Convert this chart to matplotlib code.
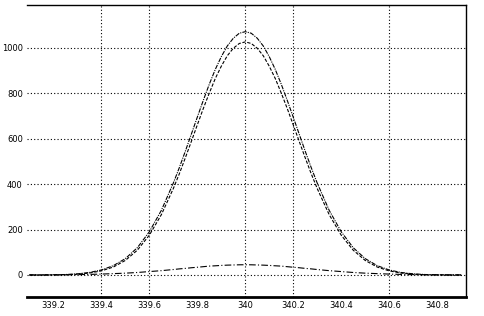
import matplotlib
matplotlib.use("Agg")
import matplotlib.pyplot as plt

# sample positions (field) and curves
x = [339.10, 339.15, 339.20, 339.25, 339.30, 339.35, 339.40, 339.45, 339.50, 339.55,
     339.60, 339.65,
     339.700, 339.725, 339.750, 339.775, 339.800, 339.825, 339.850, 339.875, 339.900,
     339.925, 339.950, 339.975, 340.000, 340.025, 340.050, 340.075, 340.100, 340.125,
     340.150, 340.175, 340.200, 340.225, 340.250, 340.275, 340.300,
     340.35, 340.40, 340.45, 340.50, 340.55, 340.60, 340.65, 340.70, 340.75, 340.80,
     340.85, 340.90]

total = [0, 0, 1, 2, 5, 11, 22, 41, 72, 120, 190, 284,
         404, 472, 544, 619, 694, 768, 839, 904, 960, 1007, 1041, 1063, 1070,
         1063, 1041, 1007, 960, 904, 839, 768, 694, 619, 544, 472, 404,
         284, 190, 120, 72, 41, 22, 11, 5, 2, 1, 0, 0]
main = [0, 0, 0.4, 1, 3.4, 8.5, 18, 35, 64, 109, 175, 265,
        380, 445, 515, 587, 660, 732, 800, 864, 918, 964, 997, 1018, 1025,
        1018, 997, 964, 918, 864, 800, 732, 660, 587, 515, 445, 380,
        265, 175, 109, 64, 35, 18, 8.5, 3.4, 1, 0.4, 0, 0]
small = [0.2, 0.3, 0.6, 1, 1.6, 2.5, 4, 6, 8, 11, 15, 19,
         24, 26.8, 29, 31.8, 34, 36.5, 39, 40.4, 42, 43.3, 44, 44.8, 45,
         44.8, 44, 43.3, 42, 40.4, 39, 36.5, 34, 31.8, 29, 26.8, 24,
         19, 15, 11, 8, 6, 4, 2.5, 1.6, 1, 0.6, 0.3, 0.2]

xticks = [339.2, 339.4, 339.6, 339.8, 340.0, 340.2, 340.4, 340.6, 340.8]
xlabels = ["339.2", "339.4", "339.6", "339.8", "340", "340.2", "340.4", "340.6", "340.8"]
yticks = [0, 200, 400, 600, 800, 1000]
vgrid = [339.4, 339.6, 340.0, 340.2, 340.6]

fig = plt.figure(figsize=(4.85, 3.16), dpi=100)
ax = fig.add_axes([0.0557, 0.060, 0.905, 0.924])

dots = (0, (1, 2))
for v in vgrid:
    ax.axvline(v, color="black", lw=0.8, ls=dots, zorder=1)
for h in yticks:
    ax.axhline(h, color="black", lw=0.8, ls=dots, zorder=1)

ax.plot(x, total, color="black", lw=0.8, ls=(0, (4, 1, 1, 1)), zorder=3)
ax.plot(x, main, color="black", lw=0.8, ls=(0, (3, 1.5)), zorder=3)
ax.plot(x, small, color="black", lw=0.8, ls=(0, (6, 2, 1, 2)), zorder=3)

ax.set_xlim(339.09, 340.92)
ax.set_ylim(-97, 1187)
ax.set_xticks(xticks)
ax.set_xticklabels(xlabels)
ax.set_yticks(yticks)
ax.tick_params(length=0, labelsize=6, colors="black")
ax.tick_params(axis="y", pad=3)
ax.tick_params(axis="x", pad=3)

ax.spines["left"].set_visible(False)
ax.spines["bottom"].set_linewidth(2)
ax.spines["top"].set_linewidth(1)
ax.spines["right"].set_linewidth(1)

fig.savefig("out.png", dpi=100)
